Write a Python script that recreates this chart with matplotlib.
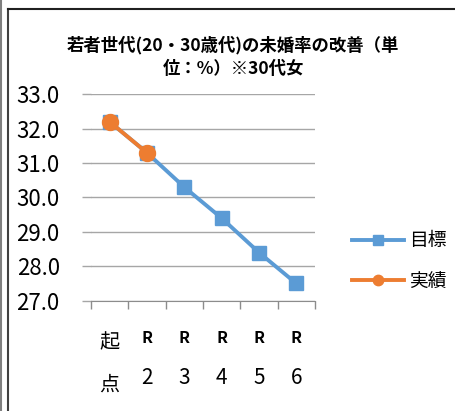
import matplotlib
matplotlib.use("Agg")
import matplotlib.pyplot as plt
from matplotlib.lines import Line2D
import matplotlib.transforms as mtransforms

plt.rcParams['font.family'] = ['Noto Sans CJK JP', 'DejaVu Sans']

# データ
categories_top = ["起", "R", "R", "R", "R", "R"]
categories_bottom = ["点", "2", "3", "4", "5", "6"]
target = [32.2, 31.3, 30.3, 29.4, 28.4, 27.5]
actual = [32.2, 31.3]
yticks = [27.0, 28.0, 29.0, 30.0, 31.0, 32.0, 33.0]
title = "若者世代(20・30歳代)の未婚率の改善（単\n位：%）※30代女"

W, H = 456, 411
fig = plt.figure(figsize=(W / 100, H / 100), dpi=100)
ax = fig.add_axes([91 / W, (H - 300.7) / H, 224 / W, 206.4 / H])

blue = "#5B9BD5"
orange = "#ED7D31"
x = list(range(len(target)))

ax.plot(x, target, color=blue, lw=2.8, marker="s", ms=10, label="目標", zorder=3)
ax.plot(x[:len(actual)], actual, color=orange, lw=2.8, marker="o", ms=11.5, label="実績", zorder=4)

ax.set_xlim(-0.5, len(target) - 0.5)
ax.set_ylim(27.0, 33.0)
ax.set_yticks(yticks)
ax.set_yticklabels([f"{v:.1f}" for v in yticks], fontsize=16)
ax.yaxis.grid(True, color="#A6A6A6", lw=1)
ax.set_axisbelow(True)
ax.tick_params(axis="y", length=6.5, color="#A6A6A6", pad=16, width=1)

ax.set_xticks([i - 0.5 for i in range(len(target) + 1)])
ax.set_xticklabels([])
ax.tick_params(axis="x", length=6, color="#8C8C8C", width=1)

for s in ["left", "right", "top"]:
    ax.spines[s].set_visible(False)
ax.spines["bottom"].set_color("#8C8C8C")

# カテゴリラベル（2行）
trans = mtransforms.blended_transform_factory(ax.transData, fig.transFigure)
for i, (t, b) in enumerate(zip(categories_top, categories_bottom)):
    if i == 0:
        ax.text(i, 1 - 343 / H, t, transform=trans, ha="center", va="center", fontsize=14.5)
        ax.text(i, 1 - 385 / H, b, transform=trans, ha="center", va="center", fontsize=14.5)
    else:
        ax.text(i, 1 - 338 / H, t, transform=trans, ha="center", va="center", fontsize=11.5, fontweight="bold")
        ax.text(i, 1 - 378 / H, b, transform=trans, ha="center", va="center", fontsize=15)

fig.text(233 / W, 1 - 57 / H, title, ha="center", va="center", fontsize=12.5,
         fontweight="bold", linespacing=1.35)

fig.legend(loc="center left", bbox_to_anchor=(352 / W, 1 - 261 / H), frameon=False,
           fontsize=13.5, handlelength=2.75, handletextpad=0.3, labelspacing=1.05,
           borderpad=0, borderaxespad=0, markerscale=0.65)

# 枠線
fig.add_artist(Line2D([1.5 / W, 1.5 / W], [0, 1], color="#7F7F7F", lw=1.5, transform=fig.transFigure))
fig.add_artist(Line2D([8 / W, 8 / W], [0, 1 - 9 / H], color="#404040", lw=1.5, transform=fig.transFigure))
fig.add_artist(Line2D([8 / W, 1], [1 - 9 / H, 1 - 9 / H], color="#202020", lw=1.5, transform=fig.transFigure))

fig.savefig("out.png", dpi=100)
